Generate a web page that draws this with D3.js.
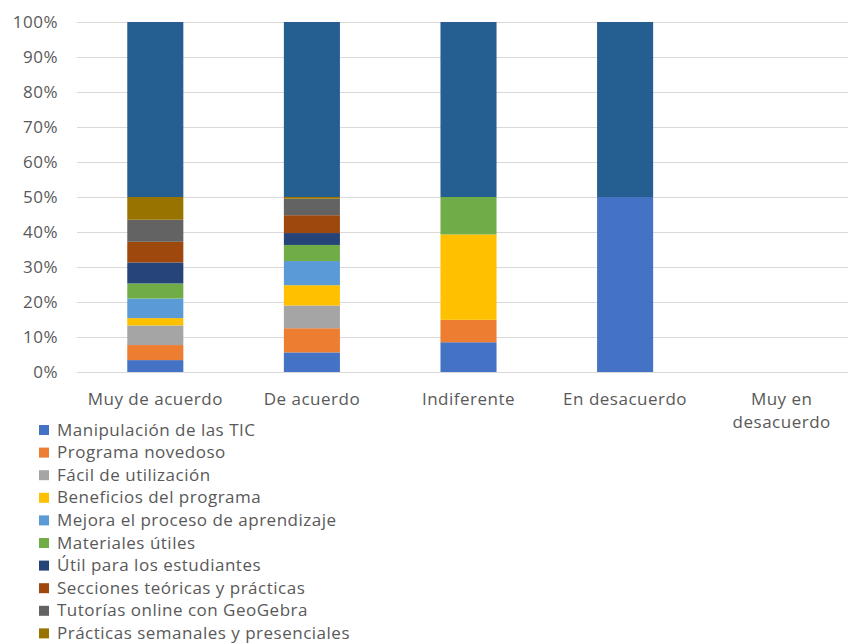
<!DOCTYPE html>
<html>
<head>
<meta charset="utf-8">
<script src="https://cdn.jsdelivr.net/npm/d3@7"></script>
<style>
  html, body { margin: 0; padding: 0; background: #fff; }
  svg { display: block; }
  text { font-family: "Open Sans", sans-serif; fill: #595959; letter-spacing: 0.5px; }
</style>
</head>
<body>
<svg id="chart" width="848" height="644"></svg>
<script>
const categories = ["Muy de acuerdo", "De acuerdo", "Indiferente", "En desacuerdo", "Muy en desacuerdo"];
const seriesNames = [
  "Manipulación de las TIC",
  "Programa novedoso",
  "Fácil de utilización",
  "Beneficios del programa",
  "Mejora el proceso de aprendizaje",
  "Materiales útiles",
  "Útil para los estudiantes",
  "Secciones teóricas y prácticas",
  "Tutorías online con GeoGebra",
  "Prácticas semanales y presenciales",
  "Total"
];
// values per series, one per category (percent)
const manipulacion = [3.4, 5.6, 8.5, 50, 0];
const novedoso     = [4.3, 6.9, 6.4, 0, 0];
const facil        = [5.6, 6.5, 0, 0, 0];
const beneficios   = [2.1, 5.8, 24.4, 0, 0];
const mejora       = [5.6, 6.9, 0, 0, 0];
const materiales   = [4.3, 4.6, 10.7, 0, 0];
const util         = [6.0, 3.4, 0, 0, 0];
const secciones    = [5.9, 5.1, 0, 0, 0];
const tutorias     = [6.3, 4.7, 0, 0, 0];
const practicas    = [6.5, 0.5, 0, 0, 0];
const total        = [50, 50, 50, 50, 0];
const seriesValues = [manipulacion, novedoso, facil, beneficios, mejora, materiales, util, secciones, tutorias, practicas, total];
const yTicks = [0, 10, 20, 30, 40, 50, 60, 70, 80, 90, 100];
// legend shows the entries visible in the picture (the last one falls below the frame)
const legendNames = seriesNames.slice(0, 10);

const colors = ["#4472C4", "#ED7D31", "#A5A5A5", "#FFC000", "#5B9BD5", "#70AD47", "#264478", "#9E480E", "#636363", "#997300", "#255E91"];

const svg = d3.select("#chart");
const margin = { left: 77, right: 860, top: 22, bottom: 372 };

const rows = categories.map((c, i) => {
  const r = { cat: c };
  seriesNames.forEach((s, j) => r[s] = seriesValues[j][i]);
  return r;
});
const stacked = d3.stack().keys(seriesNames)(rows);

const x = d3.scaleBand().domain(categories).range([margin.left, margin.right])
  .paddingInner(0.642).paddingOuter(0.321);
const y = d3.scaleLinear().domain([0, 100]).range([margin.bottom, margin.top]);
const color = d3.scaleOrdinal().domain(seriesNames).range(colors);

// gridlines
svg.append("g").selectAll("line").data(yTicks).join("line")
  .attr("x1", margin.left).attr("x2", margin.right)
  .attr("y1", d => y(d) + 0.5).attr("y2", d => y(d) + 0.5)
  .attr("stroke", "#d9d9d9").attr("stroke-width", 1);

// y axis labels
const yAxis = d3.axisLeft(y).tickValues(yTicks).tickFormat(d => d + "%").tickSize(0).tickPadding(0);
const yg = svg.append("g").attr("transform", `translate(58,0)`).call(yAxis);
yg.select(".domain").remove();
yg.selectAll("text").attr("font-size", 17).style("font-family", "Open Sans, sans-serif").attr("fill", "#595959");

// bars
svg.append("g").selectAll("g").data(stacked).join("g")
  .attr("fill", d => color(d.key))
  .selectAll("rect").data(d => d).join("rect")
  .attr("x", d => x(d.data.cat))
  .attr("width", x.bandwidth())
  .attr("y", d => y(d[1]))
  .attr("height", d => Math.max(0, y(d[0]) - y(d[1])));

// x axis labels
const xAxis = d3.axisBottom(x).tickSize(0).tickPadding(0);
const xg = svg.append("g").attr("transform", `translate(0,${margin.bottom})`).call(xAxis);
xg.select(".domain").remove();
xg.selectAll(".tick text").each(function(d) {
  const t = d3.select(this);
  t.text(null).attr("font-size", 17).attr("dy", null).attr("y", 0)
    .style("font-family", "Open Sans, sans-serif").attr("fill", "#595959");
  const lines = d === "Muy en desacuerdo" ? ["Muy en", "desacuerdo"] : [d];
  lines.forEach((ln, k) => t.append("tspan").attr("x", 0).attr("y", 33 + k * 23).text(ln));
});

// legend
const lg = svg.append("g").attr("transform", "translate(39,430)");
const items = lg.selectAll("g").data(legendNames).join("g")
  .attr("transform", (d, i) => `translate(0,${i * 22.6})`);
items.append("rect").attr("x", 0).attr("y", -5).attr("width", 10).attr("height", 10).attr("fill", d => color(d));
items.append("text").attr("x", 18).attr("y", 5.5).attr("font-size", 17).text(d => d);
</script>
</body>
</html>
